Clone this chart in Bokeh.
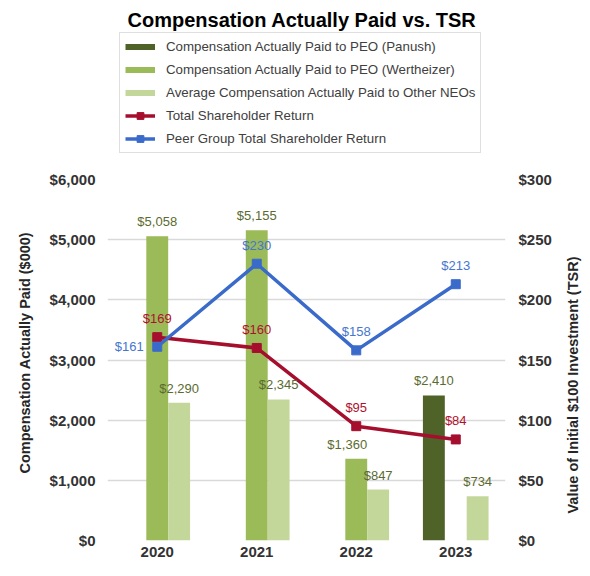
import math
from bokeh.plotting import figure
from bokeh.layouts import column, row
from bokeh.core.properties import value
from bokeh.models import (ColumnDataSource, FactorRange, Range1d, LinearAxis, Title, Label,
                          NumeralTickFormatter, FixedTicker, Legend, LegendItem, LabelSet)
from bokeh.transform import dodge
from bokeh.embed import file_html
from bokeh.resources import INLINE

# ---------------- data ----------------
years = ["2020", "2021", "2022", "2023"]
cap_panush = [None, None, None, 2410]
cap_wertheizer = [5058, 5155, 1360, None]
cap_other_neos = [2290, 2345, 847, 734]
tsr = [169, 160, 95, 84]
peer_tsr = [161, 230, 158, 213]
left_ticks = [0, 1000, 2000, 3000, 4000, 5000, 6000]
right_ticks = [0, 50, 100, 150, 200, 250, 300]
series_names = ["Compensation Actually Paid to PEO (Panush)",
                "Compensation Actually Paid to PEO (Wertheizer)",
                "Average Compensation Actually Paid to Other NEOs",
                "Total Shareholder Return",
                "Peer Group Total Shareholder Return"]
title_text = "Compensation Actually Paid vs. TSR"
left_label = "Compensation Actually Paid ($000)"
right_label = "Value of Initial $100 Investment (TSR)"

# ---------------- styles ----------------
C_PANUSH = "#4f6228"
C_WERT = "#9bbb59"
C_NEO = "#c4d79b"
C_RED = "#a50f2d"
C_BLUE = "#3a6bcb"
C_BARLBL = "#5b6b30"
C_REDLBL = "#b0102e"
C_BLUELBL = "#4676cf"
FONT = "Liberation Sans"
BAR_W = 0.22
W = 590
TOP_H = 158
BOT_H = 576 - TOP_H
BL, BR = 106, 85          # left / right borders (frame spans 106..505)
FRAME_L, FRAME_R = BL, W - BR
BT, BB = 21, 36           # chart top / bottom borders
SIDE_W = 30               # strip on the right holding the right axis title
FRAME_H = BOT_H - BT - BB


def nan(v):
    return float("nan") if v is None else v


def money(v):
    return "${:,}".format(v)


# =============== top figure: title + legend ===============
top = figure(width=W, height=TOP_H, x_range=Range1d(FRAME_L, FRAME_R),
             y_range=Range1d(0, TOP_H), x_axis_type=None, y_axis_type=None,
             output_backend="svg", toolbar_location=None,
             min_border_left=BL, min_border_right=BR, min_border_top=0, min_border_bottom=0)
top.outline_line_color = None
top.grid.visible = False

top.add_layout(Label(x=301.5, y=TOP_H - 19.5, text=title_text, text_align="center",
                     text_baseline="middle", text_font=FONT, text_font_size="20px",
                     text_font_style="bold", text_color="#000000"))

# legend proxies (one point placed off-range so nothing is drawn in the plot)
OFF = dict(x=[-1000], y=[-1000])
lg_pan = top.line(color=C_PANUSH, line_width=6, **OFF)
lg_wer = top.line(color=C_WERT, line_width=6, **OFF)
lg_neo = top.line(color=C_NEO, line_width=6, **OFF)
lg_tsr_l = top.line(color=C_RED, line_width=3.5, **OFF)
lg_tsr_m = top.scatter(marker="square", size=9, color=C_RED, **OFF)
lg_peer_l = top.line(color=C_BLUE, line_width=3.5, **OFF)
lg_peer_m = top.scatter(marker="square", size=9, color=C_BLUE, **OFF)

legend = Legend(items=[
    LegendItem(label=series_names[0], renderers=[lg_pan]),
    LegendItem(label=series_names[1], renderers=[lg_wer]),
    LegendItem(label=series_names[2], renderers=[lg_neo]),
    LegendItem(label=series_names[3], renderers=[lg_tsr_l, lg_tsr_m]),
    LegendItem(label=series_names[4], renderers=[lg_peer_l, lg_peer_m]),
], location=(13, 5.5))
legend.label_text_font = FONT
legend.label_text_font_size = "13.3px"
legend.label_text_color = "#404040"
legend.glyph_width = 30
legend.glyph_height = 17
legend.label_height = 17
legend.spacing = 6
legend.padding = 5
legend.label_standoff = 11
legend.margin = 0
legend.border_line_color = "#c0c0c0"
legend.border_line_width = 1.5
legend.background_fill_color = "white"
legend.background_fill_alpha = 1
top.add_layout(legend)

# =============== bottom figure: chart ===============
bars = ColumnDataSource(dict(
    year=years,
    panush=[nan(v) for v in cap_panush],
    wert=[nan(v) for v in cap_wertheizer],
    neo=[nan(v) for v in cap_other_neos],
))
lines = ColumnDataSource(dict(year=years, tsr=tsr, peer=peer_tsr))

p = figure(x_range=FactorRange(factors=years, range_padding=0),
           y_range=Range1d(0, 6000),
           width=W - SIDE_W, height=BOT_H, output_backend="svg", toolbar_location=None,
           min_border_left=BL, min_border_right=BR - SIDE_W, min_border_top=BT,
           min_border_bottom=BB)
p.extra_y_ranges = {"tsr": Range1d(0, 300)}
p.outline_line_color = None

p.vbar(x=dodge("year", -BAR_W, range=p.x_range), top="panush", width=BAR_W,
       source=bars, color=C_PANUSH, line_color=None)
p.vbar(x=dodge("year", 0, range=p.x_range), top="wert", width=BAR_W,
       source=bars, color=C_WERT, line_color=None)
p.vbar(x=dodge("year", BAR_W, range=p.x_range), top="neo", width=BAR_W,
       source=bars, color=C_NEO, line_color=None)

p.line("year", "tsr", source=lines, y_range_name="tsr", color=C_RED, line_width=3.5)
p.scatter("year", "tsr", source=lines, y_range_name="tsr", marker="square", size=9, color=C_RED)
p.line("year", "peer", source=lines, y_range_name="tsr", color=C_BLUE, line_width=3.5)
p.scatter("year", "peer", source=lines, y_range_name="tsr", marker="square", size=9, color=C_BLUE)


def bar_label_source(values, dx_list):
    xs, ys, txt, dx = [], [], [], []
    for y, v, d in zip(years, values, dx_list):
        if v is not None:
            xs.append(y)
            ys.append(v)
            txt.append(money(v))
            dx.append(d)
    return ColumnDataSource(dict(x=xs, y=ys, t=txt, dx=dx))


bar_groups = [
    (cap_panush, -BAR_W, [0, 0, 0, 0]),
    (cap_wertheizer, 0, [0, 0, -9, 0]),
    (cap_other_neos, BAR_W, [0, 0, 0, 0]),
]
for vals, off, dxs in bar_groups:
    src = bar_label_source(vals, dxs)
    p.add_layout(LabelSet(x=dodge("x", off, range=p.x_range), y="y", text="t", source=src,
                          x_offset="dx", y_offset=14.5, text_align="center",
                          text_baseline="middle", text_font=value(FONT),
                          text_font_size="13px", text_color=C_BARLBL))

tsr_lbl = ColumnDataSource(dict(x=years, y=tsr, t=[money(v) for v in tsr],
                                dx=[0, 0, 0, 0], dy=[18.5, 18.5, 18.5, 18.5]))
peer_lbl = ColumnDataSource(dict(x=years, y=peer_tsr, t=[money(v) for v in peer_tsr],
                                 dx=[-28, 0, 0, 0], dy=[0, 18.5, 18.5, 18.5]))
for src, col in ((tsr_lbl, C_REDLBL), (peer_lbl, C_BLUELBL)):
    p.add_layout(LabelSet(x="x", y="y", text="t", source=src, y_range_name="tsr",
                          x_offset="dx", y_offset="dy", text_align="center",
                          text_baseline="middle", text_font=value(FONT),
                          text_font_size="13px", text_color=col))

# axes
p.xaxis.axis_line_color = None
p.xaxis.major_tick_line_color = None
p.xaxis.minor_tick_line_color = None
p.xaxis.major_tick_out = 0
p.xaxis.major_label_text_font = FONT
p.xaxis.major_label_text_font_size = "15px"
p.xaxis.major_label_text_font_style = "bold"
p.xaxis.major_label_text_color = "#333333"
p.xaxis.major_label_standoff = 6

ly = p.yaxis[0]
ly.ticker = FixedTicker(ticks=left_ticks)
ly.formatter = NumeralTickFormatter(format="$0,0")
ry = LinearAxis(y_range_name="tsr", ticker=FixedTicker(ticks=right_ticks),
                formatter=NumeralTickFormatter(format="$0,0"))
p.add_layout(ry, "right")
for ax, lstand in ((ly, 12), (ry, 13)):
    ax.axis_line_color = None
    ax.major_tick_line_color = None
    ax.minor_tick_line_color = None
    ax.major_tick_out = 0
    ax.minor_tick_out = 0
    ax.major_label_text_font = FONT
    ax.major_label_text_font_size = "15px"
    ax.major_label_text_font_style = "bold"
    ax.major_label_text_color = "#333333"
    ax.major_label_standoff = lstand

p.add_layout(Title(text=left_label, align="left", offset=67, text_font=FONT,
                   text_font_size="14.5px", text_font_style="bold",
                   text_color="#262626", standoff=28), "left")

p.xgrid.grid_line_color = None
p.ygrid.grid_line_color = "#d9d9d9"
p.ygrid.grid_line_width = 1.5

# =============== right strip: right axis title (reads bottom to top) ===============
side = figure(width=SIDE_W, height=BOT_H, x_range=Range1d(0, SIDE_W),
              y_range=Range1d(0, FRAME_H), x_axis_type=None, y_axis_type=None,
              output_backend="svg", toolbar_location=None,
              min_border_left=0, min_border_right=0, min_border_top=BT, min_border_bottom=BB)
side.outline_line_color = None
side.grid.visible = False
# centre of the title sits 25 px below the middle of the plotting area, as in the reference
side.add_layout(Label(x=12, y=FRAME_H / 2 - 25, text=right_label, angle=math.pi / 2,
                      text_align="center", text_baseline="middle", text_font=FONT,
                      text_font_size="14.5px", text_font_style="bold",
                      text_color="#262626"))

layout = column(top, row(p, side, spacing=0), spacing=0)
open("out.html", "w").write(file_html(layout, INLINE))
